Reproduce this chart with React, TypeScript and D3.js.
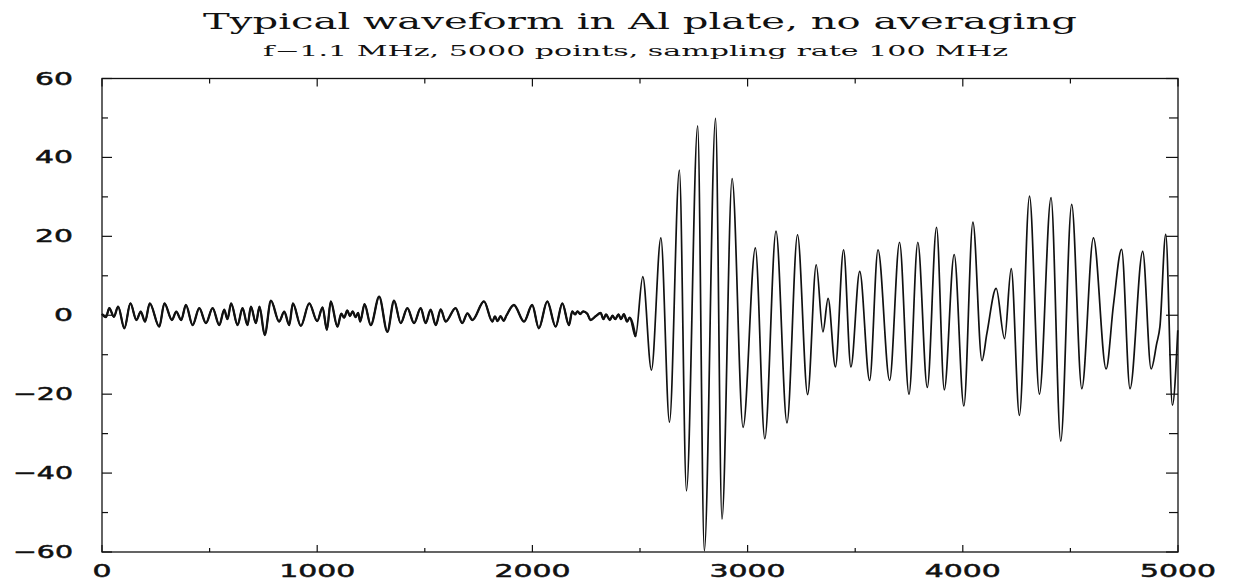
import React from "react";
import * as d3 from "d3";

// Waveform turning points (sample index, amplitude) before the wave packet arrives
const preArrivalIdx = [
  0, 18, 34, 55, 75, 104, 132, 160, 180, 200, 222, 266, 290, 325, 345, 368, 390, 421, 452, 483,
  514, 545, 568, 583, 600, 630, 653, 676, 692, 715, 732, 756, 785, 823, 847, 870, 887, 924, 963,
  1000, 1025, 1045, 1063, 1094, 1112, 1125, 1140, 1152, 1165, 1178, 1190, 1200, 1220, 1249, 1288,
  1326, 1357, 1388, 1419, 1450, 1481, 1504, 1527, 1551, 1574, 1597, 1643, 1674, 1698, 1721, 1775,
  1814, 1826, 1838, 1852, 1866, 1880, 1914, 1961, 1999, 2030, 2069, 2108, 2139, 2170, 2185, 2198,
  2210, 2222, 2236, 2255, 2270, 2295, 2317, 2330, 2342, 2360, 2372, 2385, 2400, 2412, 2425, 2440,
  2452,
];
const preArrivalAmp = [
  0.3, -0.5, 1.8, -0.4, 2.2, -3.3, 3.0, -1.2, 0.9, -1.6, 3.0, -2.9, 3.0, -1.2, 0.9, -1.2, 2.6, -2.5,
  1.8, -2.0, 1.8, -2.5, 1.4, -1.0, 3.0, -2.5, 1.8, -2.5, 2.2, -2.0, 2.2, -5.0, 3.7, -1.6, 0.9, -2.5,
  3.0, -2.7, 3.0, -1.5, 2.0, -3.7, 3.5, -2.9, 0.4, -0.6, 1.2, -0.2, 1.0, -0.5, 0.6, -1.6, 2.8, -2.5,
  4.7, -4.2, 3.7, -2.0, 1.8, -2.0, 1.8, -2.0, 1.4, -2.5, 1.5, -1.6, 1.8, -2.0, 0.5, -1.2, 3.5, -1.6,
  -0.3, -1.5, -0.2, -1.4, 0.0, 2.6, -1.6, 2.6, -3.3, 3.5, -2.9, 3.0, -2.5, 1.0, 0.2, 1.0, 0.3, 1.0,
  0.4, -1.2, -0.2, 0.6, -1.0, 0.2, -1.2, -0.1, -1.0, 0.2, -1.0, 0.3, -1.6, -0.6,
];

// Turning points of the arriving wave packet
const arrivalIdx = [
  2479, 2513, 2553, 2597, 2637, 2683, 2716, 2768, 2799, 2851, 2881, 2928, 2979, 3036, 3080, 3132,
  3183, 3232, 3279, 3319, 3350, 3374, 3408, 3446, 3480, 3521, 3567, 3606, 3660, 3706, 3750, 3791,
  3835, 3878, 3914, 3960, 4005, 4047, 4089, 4112, 4155, 4194, 4225, 4263, 4310, 4356, 4410, 4455,
  4506, 4553, 4607, 4666, 4700, 4738, 4777, 4836, 4875, 4901, 4916, 4943, 4974, 4999,
];
const arrivalAmp = [
  -5.4, 9.8, -13.9, 19.6, -27.1, 36.8, -44.5, 48.0, -59.7, 49.9, -51.7, 34.6, -28.4, 17.1, -31.3,
  21.3, -27.3, 20.4, -20.1, 12.8, -4.2, 4.3, -13.1, 16.6, -13.1, 11.1, -16.5, 16.6, -16.5, 18.5,
  -20.0, 18.5, -18.3, 22.3, -18.9, 15.4, -23.0, 23.6, -11.5, -4.6, 6.8, -5.9, 11.8, -25.4, 30.2,
  -20.0, 29.8, -31.9, 28.1, -18.6, 19.6, -13.6, 2.6, 16.7, -18.6, 16.2, -13.6, -7.2, -2.9, 20.5,
  -22.8, -3.8,
];

const xTickValues = [0, 1000, 2000, 3000, 4000, 5000];
const yTickValues = [-60, -40, -20, 0, 20, 40, 60];

const TITLE = "Typical waveform in Al plate, no averaging";
const SUBTITLE = "f\u22121.1 MHz, 5000 points, sampling rate 100 MHz";

const W = 1233;
const H = 585;
const LEFT = 102;
const RIGHT = 1178;
const TOP = 78.5;
const BOTTOM = 552;

const fmt = (v: number) => (v < 0 ? "\u2212" + Math.abs(v) : String(v));
const labelWidth = (s: string) =>
  s.split("").reduce((w, c) => w + (c === "\u2212" ? 22 : 19), 0);

export default function App() {
  const x = d3.scaleLinear().domain([0, 5000]).range([LEFT, RIGHT]);
  const y = d3.scaleLinear().domain([-60, 60]).range([BOTTOM, TOP]);

  const toPoints = (idx: number[], amp: number[]): [number, number][] =>
    idx.map((s, i) => [s, amp[i]]);
  const prePoints = toPoints(preArrivalIdx, preArrivalAmp);
  const arrPoints = toPoints(arrivalIdx, arrivalAmp);
  const allPoints = prePoints.concat(arrPoints);

  const line = d3
    .line<[number, number]>()
    .x((d) => x(d[0]))
    .y((d) => y(d[1]))
    .curve(d3.curveMonotoneX);

  const xMinor = d3.range(0, 5001, 500);
  const yMinor = d3.range(-60, 61, 10);
  const labelFont = "'DejaVu Sans', sans-serif";

  return (
    <svg
      width={W}
      height={H}
      style={{ position: "absolute", left: 0, top: 0, background: "#fff" }}
    >
      <rect x={0} y={0} width={W} height={H} fill="#fff" />
      <text
        x={203}
        y={28.5}
        fontFamily="'DejaVu Serif', serif"
        fontSize={23}
        textLength={874}
        lengthAdjust="spacingAndGlyphs"
        fill="#111"
      >
        {TITLE}
      </text>
      <text
        x={263}
        y={55.5}
        fontFamily="'DejaVu Serif', serif"
        fontSize={14.5}
        textLength={745}
        lengthAdjust="spacingAndGlyphs"
        fill="#111"
      >
        {SUBTITLE}
      </text>

      {/* plot frame */}
      <rect
        x={LEFT}
        y={TOP}
        width={RIGHT - LEFT}
        height={BOTTOM - TOP}
        fill="none"
        stroke="#111"
        strokeWidth={1.3}
      />

      {/* y ticks on both sides, pointing inward */}
      {yMinor.map((v) => {
        const major = v % 20 === 0;
        return (
          <g key={"yt" + v}>
            <line x1={LEFT} x2={LEFT + (major ? 10 : 6)} y1={y(v)} y2={y(v)} stroke="#111" strokeWidth={1.2} />
            <line x1={RIGHT} x2={RIGHT - (major ? 12 : 9)} y1={y(v)} y2={y(v)} stroke="#111" strokeWidth={1.2} />
          </g>
        );
      })}

      {/* x ticks on top and bottom */}
      {xMinor.map((v) => {
        const major = v % 1000 === 0;
        return (
          <g key={"xt" + v}>
            <line x1={x(v)} x2={x(v)} y1={TOP} y2={TOP + (major ? 8 : 5)} stroke="#111" strokeWidth={1.2} />
            <line x1={x(v)} x2={x(v)} y1={BOTTOM} y2={BOTTOM - (major ? 7 : 4)} stroke="#111" strokeWidth={1.2} />
          </g>
        );
      })}

      {yTickValues.map((v) => {
        const s = fmt(v);
        return (
          <text
            key={"yl" + v}
            x={73}
            y={y(v) + 6}
            textAnchor="end"
            fontFamily={labelFont}
            fontSize={18}
            textLength={labelWidth(s)}
            lengthAdjust="spacingAndGlyphs"
            fill="#111"
            stroke="#111"
            strokeWidth={0.5}
          >
            {s}
          </text>
        );
      })}

      {xTickValues.map((v) => {
        const s = fmt(v);
        return (
          <text
            key={"xl" + v}
            x={x(v)}
            y={577}
            textAnchor="middle"
            fontFamily={labelFont}
            fontSize={18}
            textLength={labelWidth(s)}
            lengthAdjust="spacingAndGlyphs"
            fill="#111"
            stroke="#111"
            strokeWidth={0.5}
          >
            {s}
          </text>
        );
      })}

      {/* noisy pre-arrival trace is drawn a little heavier */}
      <path d={line(allPoints) ?? ""} fill="none" stroke="#111" strokeWidth={1.7} strokeLinejoin="round" />
      <path
        d={line(prePoints.concat([arrPoints[0]])) ?? ""}
        fill="none"
        stroke="#111"
        strokeWidth={2.3}
        strokeLinejoin="round"
      />
    </svg>
  );
}
